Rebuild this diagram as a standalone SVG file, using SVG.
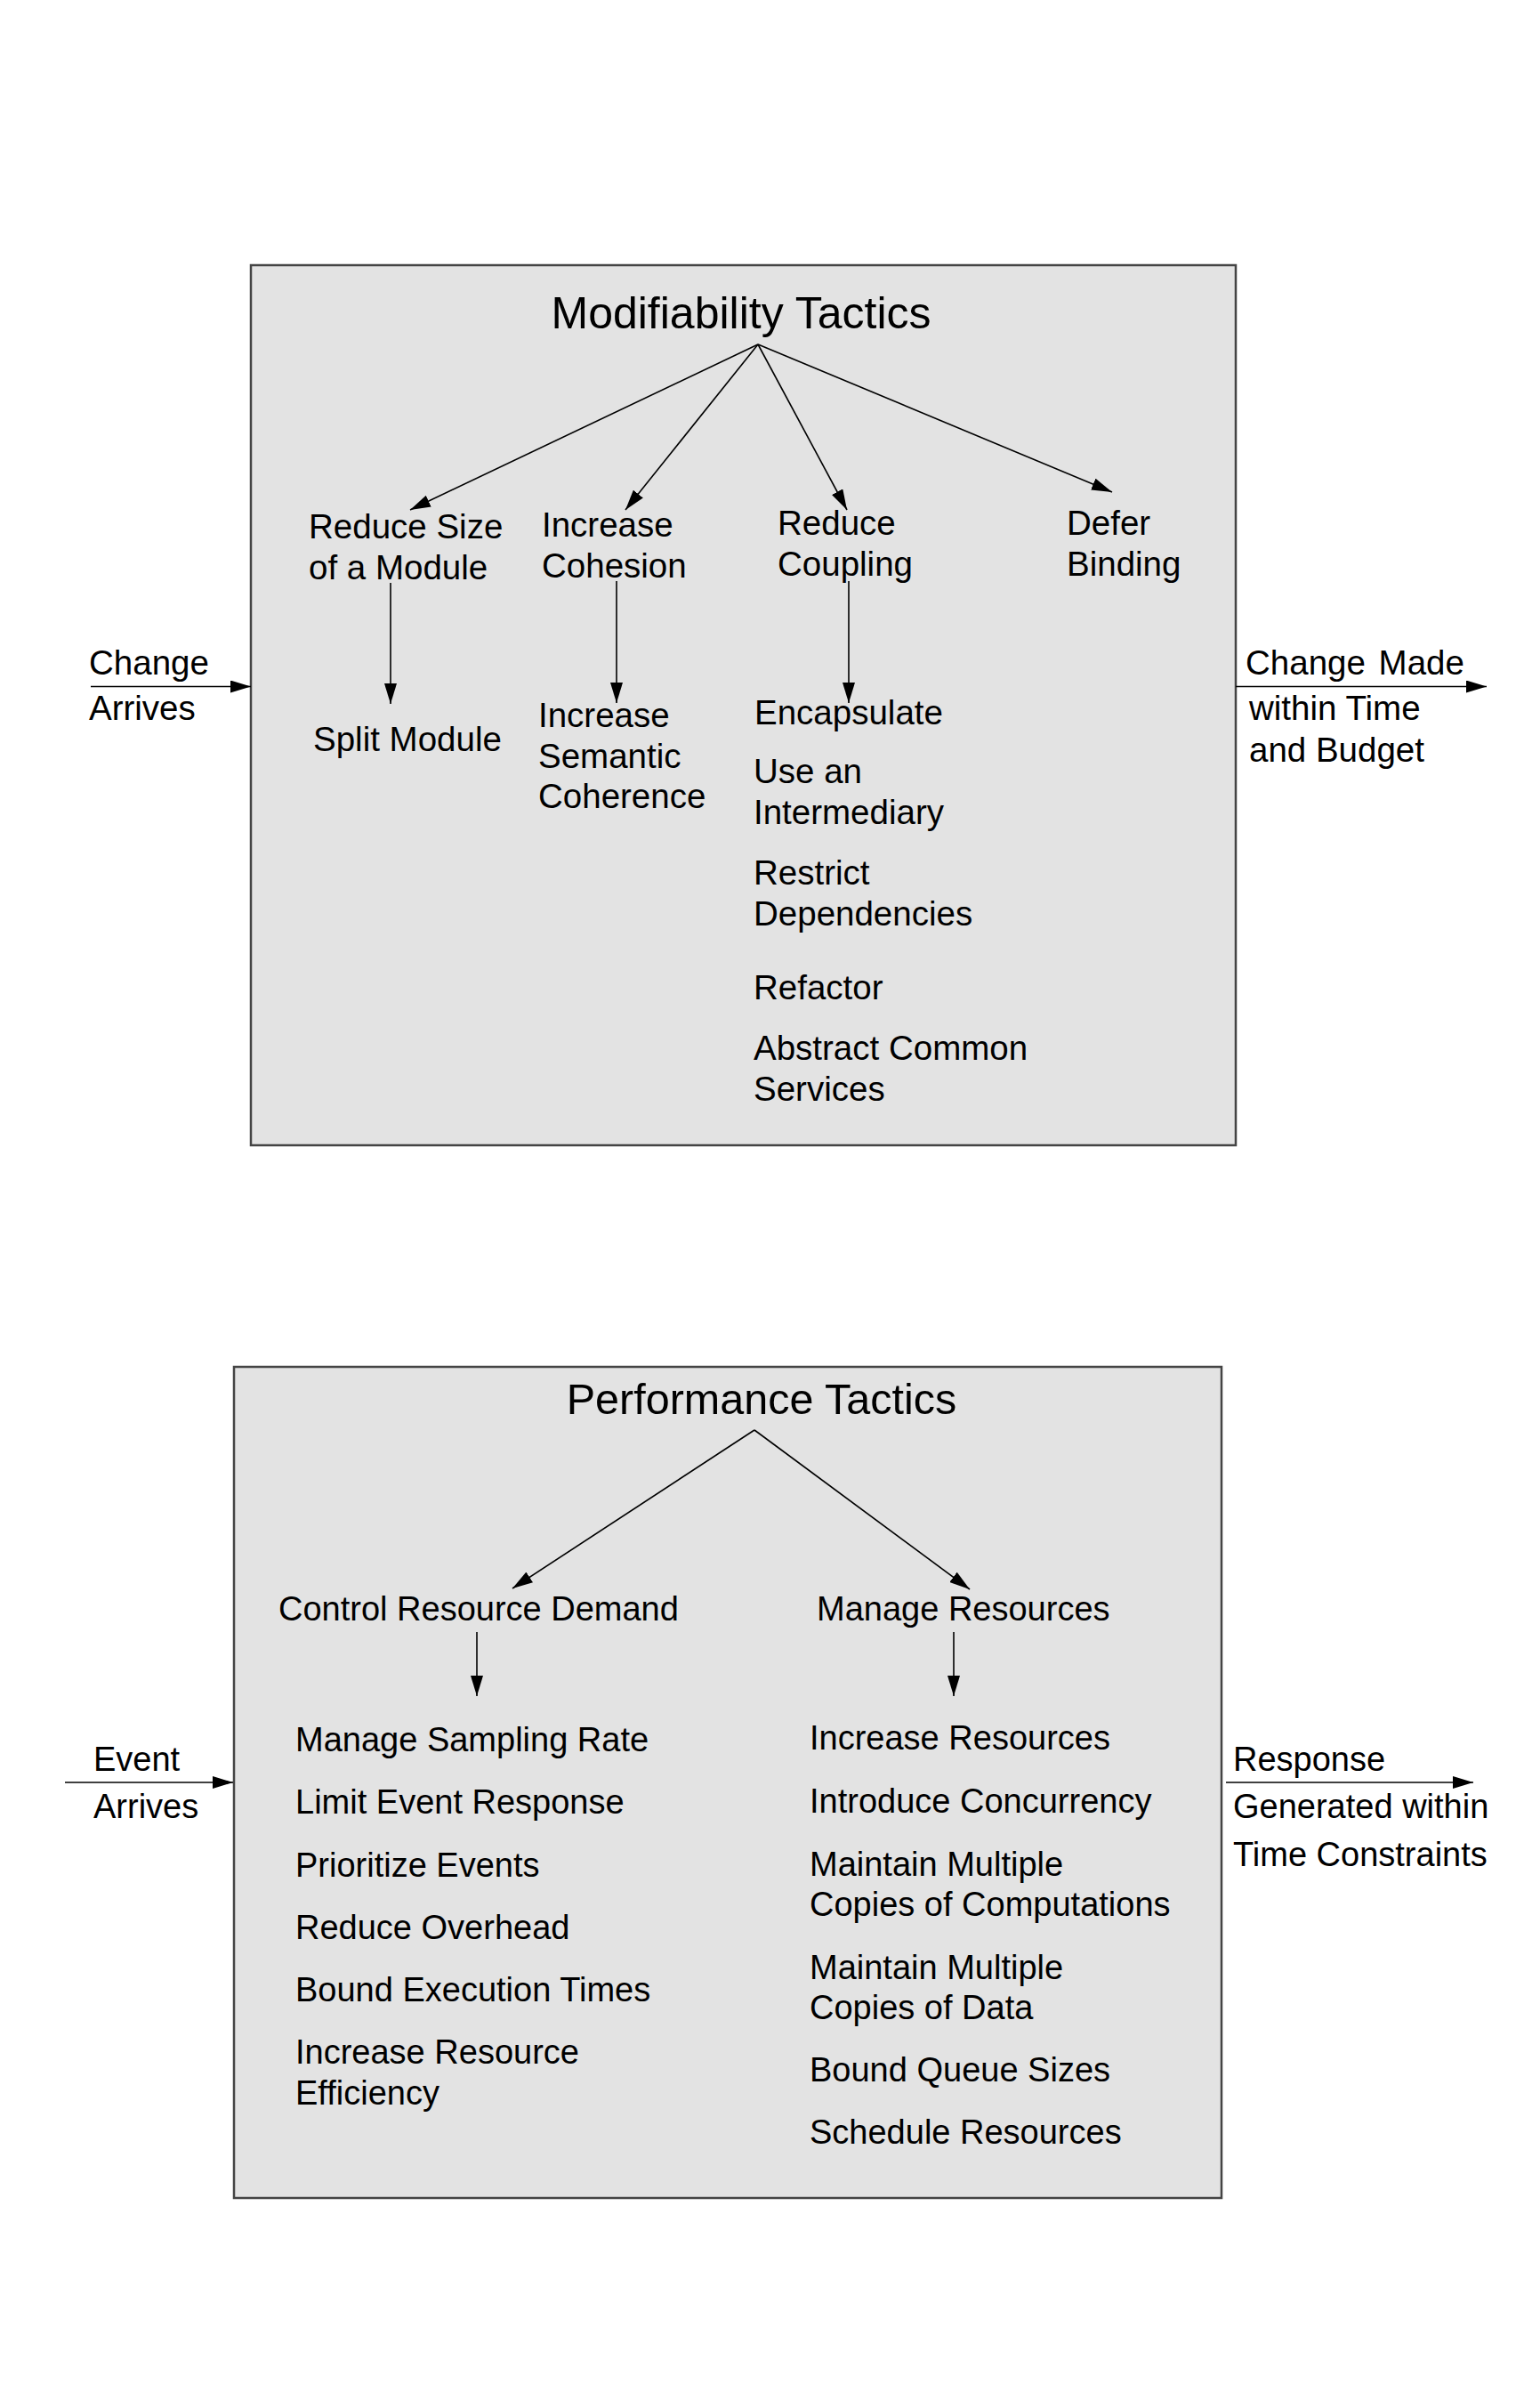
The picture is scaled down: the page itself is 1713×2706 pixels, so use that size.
<svg xmlns="http://www.w3.org/2000/svg" width="1713" height="2706" viewBox="0 0 1713 2706">
<style>
text{font-family:"Liberation Sans",Arial,Helvetica,sans-serif;font-size:38.5px;fill:#000}
.p text{font-size:38px}
.title{font-size:50px;text-anchor:middle}
.box{fill:#e3e3e3;stroke:#444;stroke-width:2.5}
.c{stroke:#000;stroke-width:1.6;fill:none;marker-end:url(#ah)}
</style>
<defs>
<marker id="ah" markerUnits="userSpaceOnUse" viewBox="0 0 23 14" refX="23" refY="7" markerWidth="23" markerHeight="14" orient="auto">
<path d="M0,0 L23,7 L0,14 z" fill="#000"/>
</marker>
</defs>
<rect width="1713" height="2706" fill="#fff"/>

<g id="modifiability">
<rect class="box" x="282" y="298" width="1107" height="989"/>
<text class="title" x="833" y="369">Modifiability Tactics</text>
</g>
<g id="reduce-size"><text x="347" y="605">Reduce Size</text><text x="347" y="651">of a Module</text></g>
<g id="increase-cohesion"><text x="609" y="603">Increase</text><text x="609" y="649">Cohesion</text></g>
<g id="reduce-coupling"><text x="874" y="601">Reduce</text><text x="874" y="647">Coupling</text></g>
<g id="defer-binding"><text x="1199" y="601">Defer</text><text x="1199" y="647">Binding</text></g>
<g id="split-module"><text x="352" y="844">Split Module</text></g>
<g id="semantic-coherence"><text x="605" y="817">Increase</text><text x="605" y="863">Semantic</text><text x="605" y="908">Coherence</text></g>
<g id="encapsulate"><text x="848" y="814">Encapsulate</text></g>
<g id="intermediary"><text x="847" y="880">Use an</text><text x="847" y="926">Intermediary</text></g>
<g id="restrict"><text x="847" y="994">Restrict</text><text x="847" y="1040">Dependencies</text></g>
<g id="refactor"><text x="847" y="1123">Refactor</text></g>
<g id="abstract"><text x="847" y="1191">Abstract Common</text><text x="847" y="1237">Services</text></g>
<g id="change-arrives"><text x="100" y="758">Change</text><text x="100" y="809">Arrives</text></g>
<g id="change-made"><text x="1400" y="758">Change <tspan dx="4">Made</tspan></text><text x="1404" y="809">within Time</text><text x="1404" y="856">and Budget</text></g>

<g id="performance">
<rect class="box" x="263" y="1536" width="1110" height="934"/>
<text class="title" x="856" y="1589" style="font-size:48.5px">Performance Tactics</text>
</g>
<g class="p">
<g id="control-demand"><text x="313" y="1821">Control Resource Demand</text></g>
<g id="manage-resources"><text x="918" y="1821">Manage Resources</text></g>
<g id="demand-list">
<text x="332" y="1968">Manage Sampling Rate</text>
<text x="332" y="2038">Limit Event Response</text>
<text x="332" y="2109">Prioritize Events</text>
<text x="332" y="2179">Reduce Overhead</text>
<text x="332" y="2249">Bound Execution Times</text>
<text x="332" y="2319">Increase Resource</text>
<text x="332" y="2365">Efficiency</text>
</g>
<g id="resource-list">
<text x="910" y="1966">Increase Resources</text>
<text x="910" y="2037">Introduce Concurrency</text>
<text x="910" y="2108">Maintain Multiple</text>
<text x="910" y="2153">Copies of Computations</text>
<text x="910" y="2224">Maintain Multiple</text>
<text x="910" y="2269">Copies of Data</text>
<text x="910" y="2339">Bound Queue Sizes</text>
<text x="910" y="2409">Schedule Resources</text>
</g>
<g id="event-arrives"><text x="105" y="1990">Event</text><text x="105" y="2043">Arrives</text></g>
<g id="response"><text x="1386" y="1990">Response</text><text x="1386" y="2043">Generated within</text><text x="1386" y="2097">Time Constraints</text></g>
</g>

<g id="connectors">
<line class="c" x1="852" y1="387" x2="461" y2="573"/>
<line class="c" x1="852" y1="387" x2="703" y2="573"/>
<line class="c" x1="852" y1="387" x2="952" y2="573"/>
<line class="c" x1="852" y1="387" x2="1250" y2="553"/>
<line class="c" x1="439" y1="655" x2="439" y2="791"/>
<line class="c" x1="693" y1="653" x2="693" y2="790"/>
<line class="c" x1="954" y1="653" x2="954" y2="790"/>
<line class="c" x1="102" y1="771.5" x2="282" y2="771.5"/>
<line class="c" x1="1389" y1="771.5" x2="1671" y2="771.5"/>
<line class="c" x1="848" y1="1607" x2="576" y2="1785"/>
<line class="c" x1="848" y1="1607" x2="1090" y2="1786"/>
<line class="c" x1="536" y1="1834" x2="536" y2="1906"/>
<line class="c" x1="1072" y1="1834" x2="1072" y2="1906"/>
<line class="c" x1="73" y1="2003" x2="262" y2="2003"/>
<line class="c" x1="1378" y1="2003" x2="1656" y2="2003"/>
</g>
</svg>
